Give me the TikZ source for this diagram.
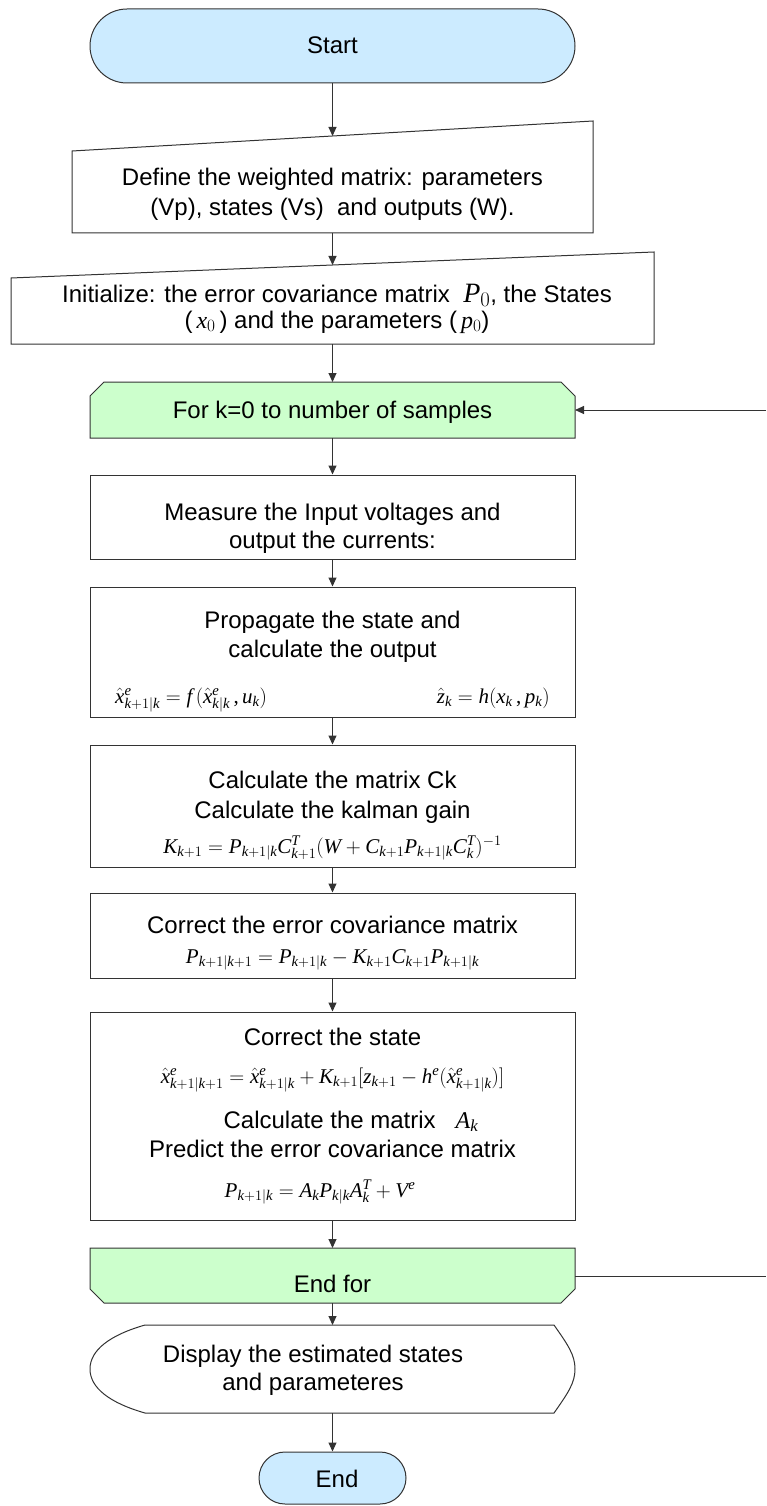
\documentclass[tikz,border=0pt]{standalone}
\usepackage{fontspec}
\setmainfont{Liberation Sans}
\newfontfamily\tmsfam{Liberation Serif}[NFSSFamily=tms]
\DeclareSymbolFont{letters}{TU}{tms}{m}{it}
\DeclareSymbolFont{tmsup}{TU}{tms}{m}{n}
\DeclareMathSymbol{0}{\mathalpha}{tmsup}{`0}
\DeclareMathSymbol{1}{\mathalpha}{tmsup}{`1}
\DeclareMathSymbol{+}{\mathbin}{tmsup}{`+}
\DeclareMathSymbol{=}{\mathrel}{tmsup}{`=}
\DeclareMathSymbol{(}{\mathopen}{tmsup}{`(}
\DeclareMathSymbol{)}{\mathclose}{tmsup}{`)}
\DeclareMathSymbol{[}{\mathopen}{tmsup}{`[}
\DeclareMathSymbol{]}{\mathclose}{tmsup}{`]}
\DeclareMathSymbol{,}{\mathpunct}{tmsup}{`,}
\usetikzlibrary{arrows.meta}
\definecolor{startblue}{HTML}{CCEBFF}
\definecolor{loopgreen}{HTML}{CCFFCC}
\definecolor{edgegray}{HTML}{333333}
\begin{document}
\begin{tikzpicture}[x=1pt,y=-1pt,
  box/.style={draw=edgegray, line width=1pt, fill=white},
  rectbox/.style={box, minimum width=485pt, inner sep=0pt},
  flow/.style={draw=edgegray, line width=1pt, -{Triangle[length=9pt,width=8pt]}},
  plain/.style={draw=edgegray, line width=1pt},
  txt/.style={font=\fontsize{24}{28}\selectfont, inner sep=0pt, anchor=base},
  mth/.style={font=\fontsize{21}{25}\selectfont, inner sep=0pt, anchor=base}]
\useasboundingbox (0,0) rectangle (766,1506);

% Start
\node[rectbox, fill=startblue, rounded corners=37pt, minimum height=74pt] (start) at (332.5,46) {};
\node[txt] (tstart) at (332.5,54) {Start};

% Define (manual input)
\draw[box] (72,151) -- (593,121) -- (593,233) -- (72,233) -- cycle;
\coordinate (defT) at (332.5,136);
\coordinate (defB) at (332.5,233);
\node[txt] (tdef1) at (332.5,186) {Define the weighted matrix: parameters};
\node[txt] (tdef2) at (332.5,216) {(Vp), states (Vs)\ \ and outputs (W).};

% Initialize (manual input)
\draw[box] (11,278) -- (654,252) -- (654,344) -- (11,344) -- cycle;
\coordinate (initT) at (332.5,265);
\coordinate (initB) at (332.5,344);
\node[txt] (tinit1) at (337,302) {Initialize: the error covariance matrix \ {\fontsize{28}{30}\selectfont$P_0$}, the States};
\node[txt] (tinit2) at (337,328) {(\,$x_0$\,) and the parameters (\,$p_0$)};

% For loop
\draw[box, fill=loopgreen] (90,438) -- (90,396) -- (104,382) -- (561,382) -- (575,396) -- (575,438) -- cycle;
\coordinate (forT) at (332.5,382);
\coordinate (forB) at (332.5,438);
\coordinate (forR) at (575,410);
\node[txt] (tfor) at (332.5,418) {For k=0 to number of samples};

% Measure
\node[rectbox, minimum height=84pt] (meas) at (332.5,517) {};
\node[txt] (tmeas1) at (332.5,520) {Measure the Input voltages and};
\node[txt] (tmeas2) at (332.5,548) {output the currents:};

% Propagate
\node[rectbox, minimum height=130pt] (prop) at (332.5,652) {};
\node[txt] (tprop1) at (332.5,628) {Propagate the state and};
\node[txt] (tprop2) at (332.5,657) {calculate the output};
\node[mth, anchor=base west] (fprop1) at (115,703) {$\hat{x}^{e}_{k+1|k}=f\,(\hat{x}^{e}_{k|k}\,,u_{k})$};
\node[mth, anchor=base east] (fprop2) at (550,703) {$\hat{z}_{k}=h(x_{k}\,,p_{k})$};

% Kalman gain
\node[rectbox, minimum height=122pt] (calc) at (332.5,806) {};
\node[txt] (tcalc1) at (332.5,788) {Calculate the matrix Ck};
\node[txt] (tcalc2) at (332.5,818) {Calculate the kalman gain};
\node[mth] (fcalc) at (332.5,853) {$K_{k+1}=P_{k+1|k}C^{T}_{k+1}(W+C_{k+1}P_{k+1|k}C^{T}_{k})^{-1}$};

% Correct covariance
\node[rectbox, minimum height=85pt] (corr) at (332.5,935.5) {};
\node[txt] (tcorr) at (332.5,933) {Correct the error covariance matrix};
\node[mth] (fcorr) at (332.5,963) {$P_{k+1|k+1}=P_{k+1|k}-K_{k+1}C_{k+1}P_{k+1|k}$};

% Correct state / predict
\node[rectbox, minimum height=208pt] (state) at (332.5,1116) {};
\node[txt] (tstate1) at (332.5,1045) {Correct the state};
\node[mth] (fstate1) at (332.5,1083) {$\hat{x}^{e}_{k+1|k+1}=\hat{x}^{e}_{k+1|k}+K_{k+1}[z_{k+1}-h^{e}(\hat{x}^{e}_{k+1|k})]$};
\node[txt] (tstate2) at (351,1128) {Calculate the matrix\ \ \ $A_k$};
\node[txt] (tstate3) at (332.5,1157) {Predict the error covariance matrix};
\node[mth] (fstate2) at (320,1197) {$P_{k+1|k}=A_{k}P_{k|k}A^{T}_{k}+V^{e}$};

% End for
\draw[box, fill=loopgreen] (90,1248) -- (575,1248) -- (575,1289) -- (561,1303) -- (104,1303) -- (90,1289) -- cycle;
\coordinate (efT) at (332.5,1248);
\coordinate (efB) at (332.5,1303);
\coordinate (efR) at (575,1276);
\node[txt] (tef) at (332.5,1292) {End for};

% Display
\draw[box] (145,1325) -- (554,1325)
  .. controls (568,1345) and (575,1355) .. (575,1369)
  .. controls (575,1383) and (568,1393) .. (554,1413)
  -- (145,1413)
  .. controls (110,1403) and (90,1388) .. (90,1369)
  .. controls (90,1350) and (110,1335) .. (145,1325) -- cycle;
\coordinate (dispT) at (332.5,1325);
\coordinate (dispB) at (332.5,1413);
\node[txt] (tdisp1) at (313,1362) {Display the estimated states};
\node[txt] (tdisp2) at (313,1390) {and parameteres};

% End
\node[box, fill=startblue, rounded corners=26pt, minimum width=147pt, minimum height=52pt, inner sep=0pt] (endn) at (332.5,1478) {};
\node[txt] (tend) at (337,1487) {End};

% loop lines
\coordinate (loopIn) at (766,410);
\coordinate (loopOut) at (766,1276);

% connectors
\draw[flow] (start.south) -- (defT);
\draw[flow] (defB) -- (initT);
\draw[flow] (initB) -- (forT);
\draw[flow] (forB) -- (meas.north);
\draw[flow] (meas.south) -- (prop.north);
\draw[flow] (prop.south) -- (calc.north);
\draw[flow] (calc.south) -- (corr.north);
\draw[flow] (corr.south) -- (state.north);
\draw[flow] (state.south) -- (efT);
\draw[flow] (efB) -- (dispT);
\draw[flow] (dispB) -- (endn.north);
\draw[flow] (loopIn) -- (forR);
\draw[plain] (efR) -- (loopOut);
\end{tikzpicture}
\end{document}
